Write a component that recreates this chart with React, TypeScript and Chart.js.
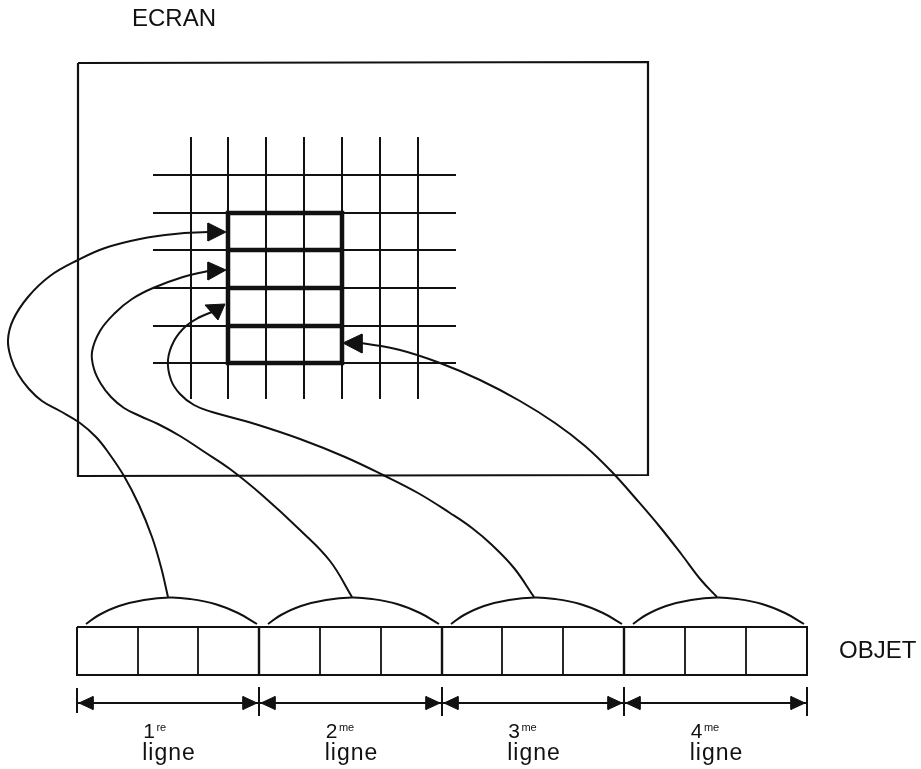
import React, { useEffect, useRef } from "react";
import { Chart, registerables } from "chart.js";

Chart.register(...registerables);

// ---- Diagram data (reference pixel units) ----
const screenTitle = "ECRAN";
const objectTitle = "OBJET";
const ordinalNumbers = ["1", "2", "3", "4"];
const ordinalSuffixes = ["re", "me", "me", "me"];
const lineWord = "ligne";

const screenRect: [number, number][] = [[78, 63], [648, 62], [648, 475], [78, 476], [78, 63]];

const gridCols = [191, 228, 266, 304, 342, 380, 418];
const gridColSpan = [137, 399];
const gridRows = [175, 213, 250, 288, 326, 363];
const gridRowSpan = [153, 456];

const boldCols = [228, 342];
const boldRows = [213, 250, 288, 326, 363];

const curve1: [number, number][] = [
  [208, 232], [175, 234], [140, 239], [105, 248], [78, 260], [50, 276], [28, 297], [13, 320],
  [8, 340], [11, 358], [18, 374], [29, 389], [42, 401], [60, 411], [80, 423], [96, 437],
  [108, 452], [124, 476], [139, 505], [152, 537], [161, 567], [168, 597],
];
const curve2: [number, number][] = [
  [208, 271], [183, 277], [153, 288], [132, 299], [115, 313], [100, 331], [92, 352], [94, 369],
  [101, 384], [111, 397], [124, 408], [140, 416], [158, 424], [180, 436], [203, 451], [230, 469],
  [262, 495], [300, 530], [330, 561], [352, 597],
];
const curve3: [number, number][] = [
  [212, 312], [200, 317], [186, 326], [174, 341], [168, 360], [171, 380], [180, 394], [194, 405],
  [212, 412], [230, 417], [252, 423], [300, 439], [345, 457], [383, 475], [418, 493], [450, 513],
  [472, 528], [492, 545], [514, 568], [534, 597],
];
const curve4: [number, number][] = [
  [361, 343], [400, 350], [440, 363], [480, 380], [520, 401], [555, 423], [585, 446], [612, 472],
  [637, 500], [660, 527], [682, 555], [701, 580], [717, 597],
];

const arrowHeads: [number, number][][] = [
  [[226, 232], [208, 223], [208, 241]],
  [[226, 270], [208, 262], [208, 280]],
  [[225, 304], [205, 305], [218, 320]],
  [[343, 343], [362, 334], [362, 353]],
];

const segmentBounds = [77, 259, 442, 624, 807];
const objetCells = [77, 138, 198, 259, 320, 381, 442, 502, 563, 624, 685, 746, 807];
const objetTop = 627;
const objetBottom = 675;

const bumpDx = [9, 22, 42, 67, 93, 113, 138, 161, 180];
const bumpY = [624, 615, 606, 600, 597.5, 599, 604, 613, 624];

const dimY = 703;
const dimTickTop = [688, 687, 687, 687, 687];
const dimTickBottom = [713, 716, 716, 716, 716];

// ---- helpers ----
const INK = "#111";
function lineDs(pts: [number, number][], width: number, tension = 0, fill = false) {
  return {
    type: "line" as const,
    data: pts.map(([x, y]) => ({ x, y })),
    borderColor: INK,
    backgroundColor: INK,
    borderWidth: width,
    pointRadius: 0,
    pointHoverRadius: 0,
    tension,
    fill: fill ? ("shape" as const) : false,
    borderJoinStyle: "miter" as const,
    borderCapStyle: "butt" as const,
  };
}

function buildDatasets() {
  const ds: any[] = [];
  ds.push(lineDs(screenRect, 2.2));
  gridCols.forEach((x) => ds.push(lineDs([[x, gridColSpan[0]], [x, gridColSpan[1]]], 2)));
  gridRows.forEach((y) => ds.push(lineDs([[gridRowSpan[0], y], [gridRowSpan[1], y]], 2)));
  boldRows.forEach((y) => ds.push(lineDs([[boldCols[0] - 2, y], [boldCols[1] + 2, y]], 4.5)));
  boldCols.forEach((x) => ds.push(lineDs([[x, boldRows[0] - 2], [x, boldRows[boldRows.length - 1] + 2]], 4.5)));
  [curve1, curve2, curve3, curve4].forEach((c) => ds.push(lineDs(c, 2, 0.4)));
  arrowHeads.forEach((a) => ds.push(lineDs([...a, a[0]], 1, 0, true)));
  segmentBounds.slice(0, 4).forEach((s) => {
    ds.push(lineDs(bumpDx.map((dx, i) => [s + dx, bumpY[i]] as [number, number]), 2, 0.4));
  });
  const l = objetCells[0];
  const r = objetCells[objetCells.length - 1];
  ds.push(lineDs([[l, objetTop], [r, objetTop], [r, objetBottom], [l, objetBottom], [l, objetTop]], 2));
  objetCells.slice(1, -1).forEach((x) => {
    const major = segmentBounds.includes(x);
    ds.push(lineDs([[x, objetTop], [x, objetBottom]], major ? 2.4 : 1.8));
  });
  ds.push(lineDs([[segmentBounds[0], dimY], [segmentBounds[4], dimY]], 2));
  segmentBounds.forEach((x, i) => ds.push(lineDs([[x, dimTickTop[i]], [x, dimTickBottom[i]]], 2)));
  for (let i = 0; i < 4; i++) {
    const s = segmentBounds[i];
    const e = segmentBounds[i + 1];
    ds.push(lineDs([[s + 2, dimY], [s + 16, dimY - 6.5], [s + 16, dimY + 6.5], [s + 2, dimY]], 1, 0, true));
    ds.push(lineDs([[e - 2, dimY], [e - 16, dimY - 6.5], [e - 16, dimY + 6.5], [e - 2, dimY]], 1, 0, true));
  }
  return ds;
}

const textPlugin = {
  id: "diagramText",
  afterDraw(chart: any) {
    const { ctx, scales } = chart;
    const px = (v: number) => scales.x.getPixelForValue(v);
    const py = (v: number) => scales.y.getPixelForValue(v);
    ctx.save();
    ctx.fillStyle = INK;
    ctx.textBaseline = "alphabetic";
    ctx.textAlign = "left";
    ctx.font = '24px "Liberation Sans", Arial, sans-serif';
    ctx.fillText(screenTitle, px(132), py(26));
    ctx.fillText(objectTitle, px(839), py(658));
    for (let i = 0; i < 4; i++) {
      const cx = (segmentBounds[i] + segmentBounds[i + 1]) / 2 + 1;
      ctx.font = '23px "Liberation Sans", Arial, sans-serif';
      (ctx as any).letterSpacing = "1px";
      const w = ctx.measureText(lineWord).width;
      const left = px(cx) - w / 2;
      ctx.fillText(lineWord, left, py(760));
      (ctx as any).letterSpacing = "0px";
      ctx.font = '21px "Liberation Sans", Arial, sans-serif';
      ctx.fillText(ordinalNumbers[i], left + 1, py(738));
      const nw = ctx.measureText(ordinalNumbers[i]).width;
      ctx.font = '11px "Liberation Sans", Arial, sans-serif';
      ctx.fillText(ordinalSuffixes[i], left + 1 + nw + 1.5, py(731));
    }
    ctx.restore();
  },
};

export default function App() {
  const ref = useRef<HTMLCanvasElement | null>(null);
  useEffect(() => {
    if (!ref.current) return;
    const chart = new Chart(ref.current, {
      type: "line",
      data: { datasets: buildDatasets() },
      options: {
        animation: false,
        responsive: false,
        devicePixelRatio: 1,
        layout: { padding: 0 },
        events: [],
        plugins: { legend: { display: false }, tooltip: { enabled: false }, title: { display: false } },
        scales: {
          x: { type: "linear", min: 0, max: 921, display: false },
          y: { type: "linear", min: 0, max: 769, reverse: true, display: false },
        },
      },
      plugins: [textPlugin],
    });
    return () => chart.destroy();
  }, []);
  return (
    <div style={{ position: "absolute", left: 0, top: 0, width: 921, height: 769, background: "#fff" }}>
      <canvas ref={ref} width={921} height={769} style={{ display: "block" }} />
    </div>
  );
}
